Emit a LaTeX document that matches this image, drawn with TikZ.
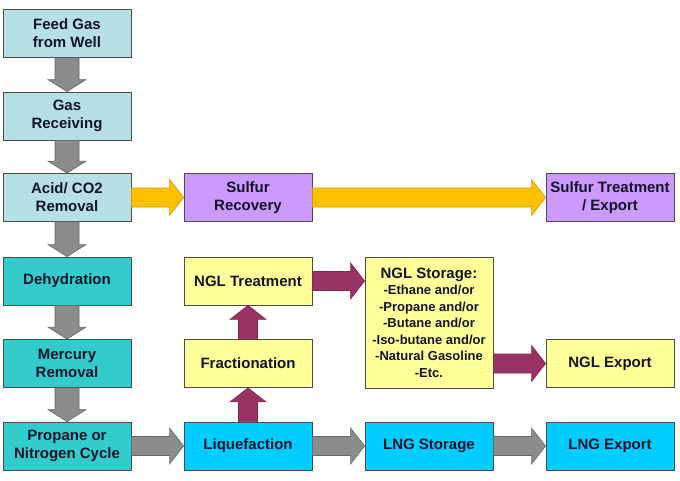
\documentclass[tikz,border=0pt]{standalone}
\usepackage{fontspec}
\setmainfont{Liberation Sans}
\usetikzlibrary{calc}
\definecolor{lcyan}{RGB}{183,224,230}
\definecolor{teal2}{RGB}{51,204,204}
\definecolor{bcyan}{RGB}{0,204,255}
\definecolor{purp}{RGB}{204,153,255}
\definecolor{lyel}{RGB}{255,255,153}
\definecolor{gold}{RGB}{255,192,0}
\definecolor{maroon2}{RGB}{153,51,102}
\definecolor{txt}{RGB}{20,20,40}
\tikzset{
  box/.style={rectangle, draw=black!70, line width=0.8pt, minimum width=128pt, minimum height=48pt, inner sep=0pt, align=center, text=txt, font=\fontsize{15}{18}\selectfont\bfseries},
  grayarr/.style={fill=gray!90, draw=black!60, line width=0.6pt},
  goldarr/.style={fill=gold, draw=gold!80!black, line width=0.6pt},
  mararr/.style={fill=maroon2, draw=maroon2!80!black, line width=0.6pt},
}
% horizontal block arrow at the height of the target's west anchor
\newcommand\harr[3]{\draw[#1] let \p1=(#2.east), \p2=(#3.west) in
  (\x1,\y2+9.5pt) -- (\x2-14pt,\y2+9.5pt) -- (\x2-14pt,\y2+18pt) -- (\x2,\y2) -- (\x2-14pt,\y2-18pt) -- (\x2-14pt,\y2-9.5pt) -- (\x1,\y2-9.5pt) -- cycle;}
% horizontal block arrow at the height of the source's east anchor
\newcommand\harrs[3]{\draw[#1] let \p1=(#2.east), \p2=(#3.west) in
  (\x1,\y1+9.5pt) -- (\x2-14pt,\y1+9.5pt) -- (\x2-14pt,\y1+18pt) -- (\x2,\y1) -- (\x2-14pt,\y1-18pt) -- (\x2-14pt,\y1-9.5pt) -- (\x1,\y1-9.5pt) -- cycle;}
\newcommand\darr[3]{\draw[#1] let \p1=(#2.south), \p2=(#3.north) in
  (\x2-12pt,\y1) -- (\x2-12pt,\y2+12pt) -- (\x2-19pt,\y2+12pt) -- (\x2,\y2) -- (\x2+19pt,\y2+12pt) -- (\x2+12pt,\y2+12pt) -- (\x2+12pt,\y1) -- cycle;}
\newcommand\uarr[3]{\draw[#1] let \p1=(#2.north), \p2=(#3.south) in
  (\x2-9.5pt,\y1) -- (\x2-9.5pt,\y2-14pt) -- (\x2-18pt,\y2-14pt) -- (\x2,\y2) -- (\x2+18pt,\y2-14pt) -- (\x2+9.5pt,\y2-14pt) -- (\x2+9.5pt,\y1) -- cycle;}
\begin{document}
\begin{tikzpicture}[x=1pt,y=-1pt]
\useasboundingbox[fill=white] (0,0) rectangle (680,480);
% left column
\node[box, fill=lcyan] (feed) at (67,33.5) {Feed Gas\\from Well};
\node[box, fill=lcyan] (recv) at (67,116) {Gas\\Receiving};
\node[box, fill=lcyan] (acid) at (67,197.5) {Acid/ CO2\\Removal};
\node[box, fill=teal2] (dehy) at (67,281) {Dehydration};
\node[box, fill=teal2] (merc) at (67,363.5) {Mercury\\Removal};
\node[box, fill=teal2] (prop) at (67,446) {Propane or\\Nitrogen Cycle};
% second column
\node[box, fill=purp] (sulf) at (248,197.5) {Sulfur\\Recovery};
\node[box, fill=lyel] (nglt) at (248,281) {NGL Treatment};
\node[box, fill=lyel] (frac) at (248,363.5) {Fractionation};
\node[box, fill=bcyan] (liq) at (248,446) {Liquefaction};
% third column
\node[box, fill=lyel, minimum height=131pt, font=\fontsize{13}{16.5}\selectfont\bfseries] (ngls) at (429,322.5)
  {{\fontsize{15}{16.5}\selectfont NGL Storage:}\\-Ethane and/or\\-Propane and/or\\-Butane and/or\\-Iso-butane and/or\\-Natural Gasoline\\-Etc.};
\node[box, fill=bcyan] (lngs) at (429,446) {LNG Storage};
% fourth column
\node[box, fill=purp] (sulx) at (610,197.5) {Sulfur Treatment\\/ Export};
\node[box, fill=lyel] (nglx) at (610,363.5) {NGL Export};
\node[box, fill=bcyan] (lngx) at (610,446) {LNG Export};
% arrows
\darr{grayarr}{feed}{recv}
\darr{grayarr}{recv}{acid}
\darr{grayarr}{acid}{dehy}
\darr{grayarr}{dehy}{merc}
\darr{grayarr}{merc}{prop}
\harr{goldarr}{acid}{sulf}
\harr{goldarr}{sulf}{sulx}
\harr{grayarr}{prop}{liq}
\harr{grayarr}{liq}{lngs}
\harr{grayarr}{lngs}{lngx}
\uarr{mararr}{liq}{frac}
\uarr{mararr}{frac}{nglt}
\harrs{mararr}{nglt}{ngls}
\harr{mararr}{ngls}{nglx}
\end{tikzpicture}
\end{document}
